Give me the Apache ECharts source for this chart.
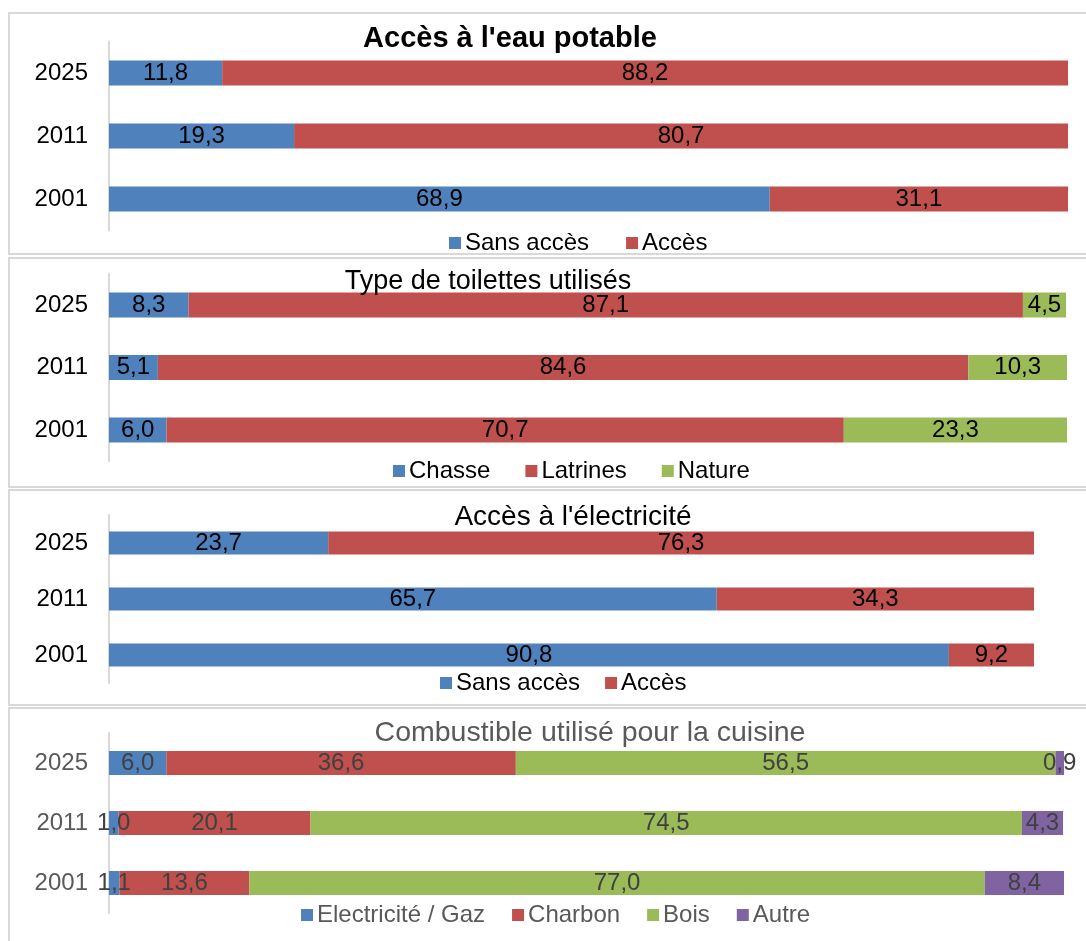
<!DOCTYPE html>
<html>
<head>
<meta charset="utf-8">
<script src="https://cdn.jsdelivr.net/npm/echarts@6/dist/echarts.min.js"></script>
<style>
html,body{margin:0;padding:0;background:#fff;}
#chart{width:1086px;height:941px;}
</style>
</head>
<body>
<div id="chart"></div>
<script>
// ---- Data ----
var years = ['2001', '2011', '2025'];

var eauSans = [68.9, 19.3, 11.8];
var eauAcces = [31.1, 80.7, 88.2];

var toilChasse = [6.0, 5.1, 8.3];
var toilLatrines = [70.7, 84.6, 87.1];
var toilNature = [23.3, 10.3, 4.5];

var elecSans = [90.8, 65.7, 23.7];
var elecAcces = [9.2, 34.3, 76.3];

var combElec = [1.1, 1.0, 6.0];
var combCharbon = [13.6, 20.1, 36.6];
var combBois = [77.0, 74.5, 56.5];
var combAutre = [8.4, 4.3, 0.9];

var titles = ["Accès à l'eau potable", 'Type de toilettes utilisés', "Accès à l'électricité", 'Combustible utilisé pour la cuisine'];

// ---- Styles ----
var FONT = 'Liberation Sans, Arial, sans-serif';
var BLUE = '#4F81BD', RED = '#C0504D', GREEN = '#9BBB59', PURPLE = '#8064A2';

var panels = [
  { grid: {left: 109, top: 41.5, width: 959, height: 189}, barW: 25,
    series: [['Sans accès', eauSans, BLUE], ['Accès', eauAcces, RED]],
    axisColor: '#000', labelColor: '#000',
    title: {x: 510, y: 39, size: 29, bold: true, color: '#000'},
    legend: {left: 449, top: 231, gap: 37, color: '#000'} },
  { grid: {left: 109, top: 273.75, width: 958, height: 187.5}, barW: 25,
    series: [['Chasse', toilChasse, BLUE], ['Latrines', toilLatrines, RED], ['Nature', toilNature, GREEN]],
    axisColor: '#000', labelColor: '#000',
    title: {x: 488, y: 282, size: 27, bold: false, color: '#000'},
    legend: {left: 393, top: 459, gap: 35, color: '#000'} },
  { grid: {left: 109, top: 515, width: 925, height: 168}, barW: 23,
    series: [['Sans accès', elecSans, BLUE], ['Accès', elecAcces, RED]],
    axisColor: '#000', labelColor: '#000',
    title: {x: 573, y: 517, size: 28, bold: false, color: '#000'},
    legend: {left: 440, top: 671, gap: 25, color: '#000'} },
  { grid: {left: 109, top: 733, width: 955, height: 180}, barW: 24,
    series: [['Electricité / Gaz', combElec, BLUE], ['Charbon', combCharbon, RED], ['Bois', combBois, GREEN], ['Autre', combAutre, PURPLE]],
    axisColor: '#595959', labelColor: '#404040',
    title: {x: 590, y: 733, size: 28.5, bold: false, color: '#595959'},
    legend: {left: 301, top: 903, gap: 27, color: '#595959'} }
];

var fmt = function (p) { return p.value.toFixed(1).replace('.', ','); };

var option = {
  animation: false,
  backgroundColor: '#fff',
  grid: [], xAxis: [], yAxis: [], series: [], legend: [], graphic: []
};

// panel borders
var boxes = [[9, 13, 1100, 241], [9, 258, 1100, 229], [9, 490, 1100, 215], [9, 708, 1100, 260]];
boxes.forEach(function (b) {
  option.graphic.push({type: 'rect', shape: {x: b[0], y: b[1], width: b[2], height: b[3]},
    style: {fill: null, stroke: '#d9d9d9', lineWidth: 2}, silent: true, z: -1});
});

panels.forEach(function (p, i) {
  option.grid.push(p.grid);
  option.xAxis.push({type: 'value', gridIndex: i, min: 0, max: 100, show: false});
  option.yAxis.push({type: 'category', gridIndex: i, data: years,
    axisLine: {show: true, lineStyle: {color: '#d9d9d9', width: 2}},
    axisTick: {show: false}, splitLine: {show: false},
    axisLabel: {color: p.axisColor, fontSize: 24, fontFamily: FONT, margin: 21}});
  var names = [];
  p.series.forEach(function (s) {
    names.push(s[0]);
    option.series.push({
      type: 'bar', name: s[0], data: s[1], stack: 'p' + i,
      xAxisIndex: i, yAxisIndex: i, barWidth: p.barW,
      itemStyle: {color: s[2]},
      label: {show: true, position: 'inside', formatter: fmt,
        color: p.labelColor, fontSize: 24, fontFamily: FONT, overflow: 'none'}
    });
  });
  option.legend.push({
    data: names, left: p.legend.left, top: p.legend.top, orient: 'horizontal',
    icon: 'rect', itemWidth: 12, itemHeight: 12, itemGap: p.legend.gap, padding: 0,
    selectedMode: false,
    textStyle: {color: p.legend.color, fontSize: 24, fontFamily: FONT, padding: [0, 0, 0, -1]}
  });
  option.graphic.push({type: 'text', x: p.title.x, y: p.title.y,
    style: {text: titles[i], fill: p.title.color, font: (p.title.bold ? 'bold ' : '') + p.title.size + 'px ' + FONT,
      textAlign: 'center', textVerticalAlign: 'middle'}, z: 10});
});

var chart = echarts.init(document.getElementById('chart'), null, {renderer: 'canvas'});
chart.setOption(option);
</script>
</body>
</html>
